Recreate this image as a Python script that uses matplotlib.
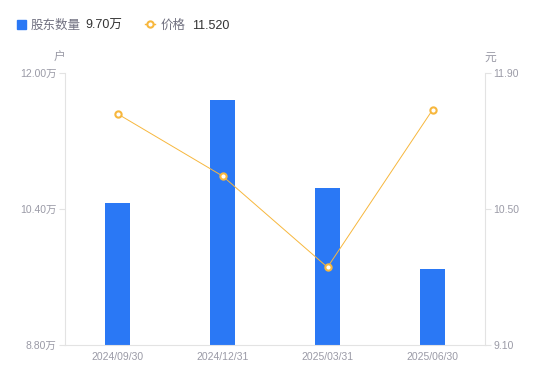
import matplotlib.pyplot as plt
from matplotlib.lines import Line2D

plt.rcParams['font.family'] = ['Liberation Sans', 'Noto Sans CJK SC']

dates = ['2024/09/30', '2024/12/31', '2025/03/31', '2025/06/30']
holders = [10.47, 11.68, 10.65, 9.70]   # 万户
price = [11.48, 10.84, 9.90, 11.52]     # 元

left_ticks = [8.80, 10.40, 12.00]
right_ticks = [9.10, 10.50, 11.90]

bar_color = '#2a78f5'
line_color = '#f7b73d'
grid_color = '#e3e3e3'
label_color = '#9a9aa6'

fig = plt.figure(figsize=(5.5, 3.81), dpi=100)
ax = fig.add_axes([65/550, 1-345/381, 420/550, 272/381])
x = list(range(len(dates)))
ax.bar(x, holders, width=0.24, color=bar_color, zorder=2)
ax.set_xlim(-0.5, 3.5)
ax.set_ylim(left_ticks[0], left_ticks[-1])
ax.set_yticks(left_ticks)
ax.set_yticklabels([f'{v:.2f}万' for v in left_ticks])
ax.set_xticks(x)
ax.set_xticklabels(dates)

ax2 = ax.twinx()
ax2.plot(x, price, color=line_color, lw=0.7, marker='o', ms=4.5,
         mfc='white', mec=line_color, mew=1.5, zorder=3)
ax2.set_ylim(right_ticks[0], right_ticks[-1])
ax2.set_yticks(right_ticks)
ax2.set_yticklabels([f'{v:.2f}' for v in right_ticks])

for a in (ax, ax2):
    for s in a.spines.values():
        s.set_visible(False)
    a.tick_params(colors=grid_color, labelcolor=label_color, labelsize=7.5,
                  length=4, width=0.8, pad=2)
ax.tick_params(axis='x', length=0, pad=5)
ax.spines['left'].set_visible(True)
ax.spines['left'].set_color(grid_color)
ax.spines['bottom'].set_visible(True)
ax.spines['bottom'].set_color(grid_color)
ax2.spines['right'].set_visible(True)
ax2.spines['right'].set_color(grid_color)

fig.text(59/550, 1-58/381, '户', color=label_color, fontsize=8.5, ha='center', va='center')
fig.text(490/550, 1-58/381, '元', color=label_color, fontsize=8.5, ha='center', va='center')

# legend
ly = 1 - 24/381
ty = 1 - 26/381
fig.patches.append(plt.Rectangle((17/550, ly - 4.5/381), 9/550, 9/381,
                                 transform=fig.transFigure, color=bar_color))
fig.text(31/550, ty, '股东数量', color='#707080', fontsize=9, va='center')
fig.text(85/550, ty, f'{holders[-1]:.2f}万', color='#333333', fontsize=9, va='center')
fig.lines.append(Line2D([145/550, 155/550], [ly, ly], transform=fig.transFigure,
                        color=line_color, lw=1))
fig.lines.append(Line2D([150/550], [ly], transform=fig.transFigure, color=line_color,
                        marker='o', ms=4.5, mfc='white', mec=line_color, mew=1.5))
fig.text(161/550, ty, '价格', color='#707080', fontsize=9, va='center')
fig.text(192/550, ty, f'{price[-1]:.3f}', color='#333333', fontsize=9, va='center')

fig.savefig('out.png', dpi=100)
